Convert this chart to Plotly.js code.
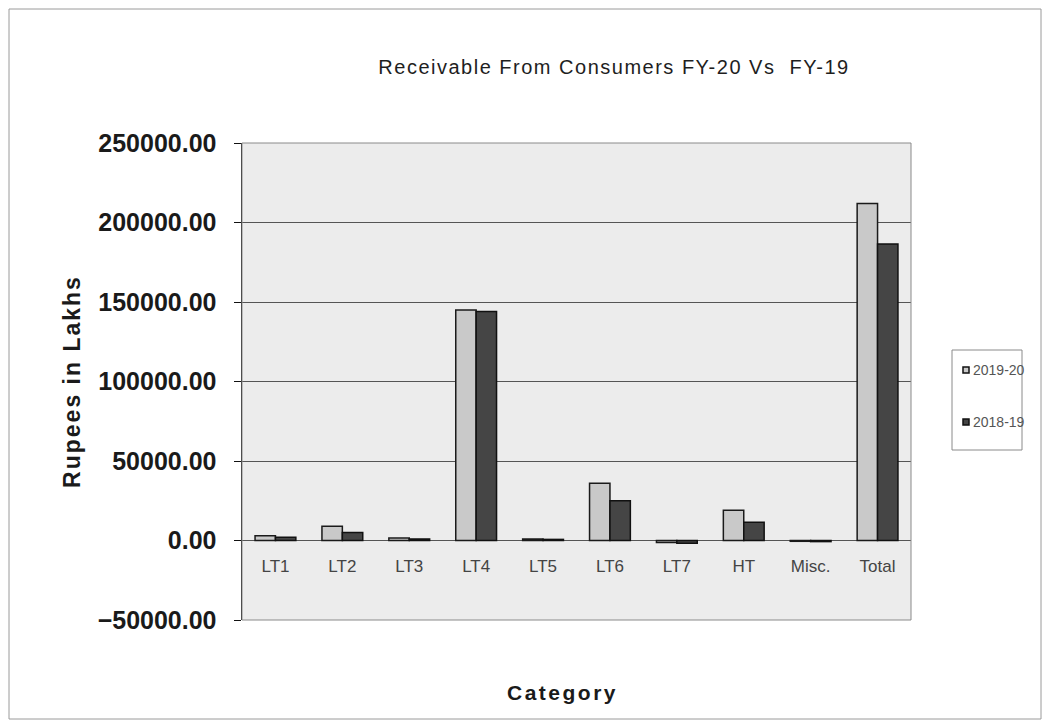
<!DOCTYPE html>
<html>
<head>
<meta charset="utf-8">
<script src="https://cdn.plot.ly/plotly-3.0.1.min.js"></script>
<style>
  html, body { margin: 0; padding: 0; background: #ffffff; }
  #chart { width: 1050px; height: 725px; }
</style>
</head>
<body>
<div id="chart"></div>
<script>
var categories = ["LT1", "LT2", "LT3", "LT4", "LT5", "LT6", "LT7", "HT", "Misc.", "Total"];
var fy2019_20 = [3000, 9000, 1500, 145000, 1000, 36000, -1200, 19000, -500, 212000];
var fy2018_19 = [2000, 5000, 1000, 144000, 700, 25000, -1800, 11500, -700, 186500];
var seriesNames = ["2019-20", "2018-19"];
var seriesColors = ["#c9c9c9", "#454545"];
var yTickVals = [-50000, 0, 50000, 100000, 150000, 200000, 250000];

var traces = [
  {
    type: "bar", name: seriesNames[0], x: categories, y: fy2019_20, showlegend: false,
    marker: { color: seriesColors[0], line: { color: "#1a1a1a", width: 1.5 } }
  },
  {
    type: "bar", name: seriesNames[1], x: categories, y: fy2018_19, showlegend: false,
    marker: { color: seriesColors[1], line: { color: "#111111", width: 1.5 } }
  }
];

var L = 242, R = 911, T = 143, B = 620, W = 1050, H = 725;
function px(x) { return (x - L) / (R - L); }
function py(y) { return (B - y) / (B - T); }

// custom legend (box, swatches, labels)
var legendShapes = [
  { type: "rect", xref: "paper", yref: "paper",
    x0: px(952), x1: px(1022), y0: py(450), y1: py(350),
    line: { color: "#8a8a8a", width: 1 }, fillcolor: "#ffffff" }
];
var legendAnn = [];
var legendY = [370, 422];
for (var i = 0; i < seriesNames.length; i++) {
  legendShapes.push({ type: "rect", xref: "paper", yref: "paper",
    x0: px(963), x1: px(969), y0: py(legendY[i] + 3), y1: py(legendY[i] - 3),
    line: { color: "#111111", width: 1.5 }, fillcolor: seriesColors[i] });
  legendAnn.push({ xref: "paper", yref: "paper", x: px(971), y: py(legendY[i]),
    xanchor: "left", yanchor: "middle", showarrow: false, text: seriesNames[i],
    font: { size: 14, color: "#555555" } });
}

var layout = {
  width: W, height: H,
  paper_bgcolor: "#ffffff",
  plot_bgcolor: "#ececec",
  margin: { l: L, r: W - R, t: T, b: H - B, pad: 0 },
  barmode: "group",
  bargap: 0.39,
  bargroupgap: 0,
  font: { family: "Liberation Sans, Arial, sans-serif", color: "#222222" },
  title: {
    text: "Receivable From Consumers FY-20 Vs  FY-19",
    x: 614 / W, xanchor: "center", y: 1 - 67 / H, yanchor: "middle",
    font: { size: 20, color: "#1e1e1e", family: "Liberation Sans, Arial, sans-serif" }
  },
  xaxis: {
    type: "category",
    showgrid: false,
    showline: false,
    ticks: "", tickfont: { size: 17, color: "#444444" },
    anchor: "free", position: py(541),
    ticklabelstandoff: 13,
    automargin: false,
    title: { text: "<b>Category</b>", font: { size: 21, color: "#1a1a1a" }, standoff: 110 },
    zeroline: false
  },
  yaxis: {
    range: [-50000, 250000],
    tickvals: yTickVals,
    tickformat: ".2f",
    showgrid: true, gridcolor: "#555555", gridwidth: 1,
    zeroline: true, zerolinecolor: "#555555", zerolinewidth: 1,
    showline: true, linecolor: "#111111", linewidth: 1.5, mirror: false,
    ticks: "outside", ticklen: 7, tickcolor: "#111111",
    ticklabelstandoff: 12,
    automargin: false,
    tickfont: { size: 25, color: "#1a1a1a" },
    title: { text: "<b>Rupees in Lakhs</b>", font: { size: 23, color: "#1a1a1a" }, standoff: 10 }
  },
  annotations: legendAnn,
  shapes: [
    { type: "rect", xref: "paper", yref: "paper",
      x0: px(9), x1: px(1041), y0: py(719), y1: py(9),
      line: { color: "#9a9a9a", width: 1 }, layer: "below" },
    { type: "rect", xref: "paper", yref: "paper",
      x0: 0, x1: 1, y0: 0, y1: 1,
      line: { color: "#8a8a8a", width: 1 }, fillcolor: "rgba(0,0,0,0)" }
  ].concat(legendShapes)
};

Plotly.newPlot("chart", traces, layout, { displayModeBar: false, staticPlot: true }).then(function () {
  document.querySelectorAll(".ytick text").forEach(function (n) { n.style.fontWeight = "bold"; });
  document.querySelectorAll(".gtitle").forEach(function (n) { n.style.letterSpacing = "1.5px"; });
  document.querySelectorAll(".g-ytitle text").forEach(function (n) { n.style.letterSpacing = "2px"; });
  document.querySelectorAll(".g-xtitle text").forEach(function (n) {
    n.style.letterSpacing = "2.5px";
    n.setAttribute("transform", "translate(-14,0)");
  });
});
</script>
</body>
</html>
